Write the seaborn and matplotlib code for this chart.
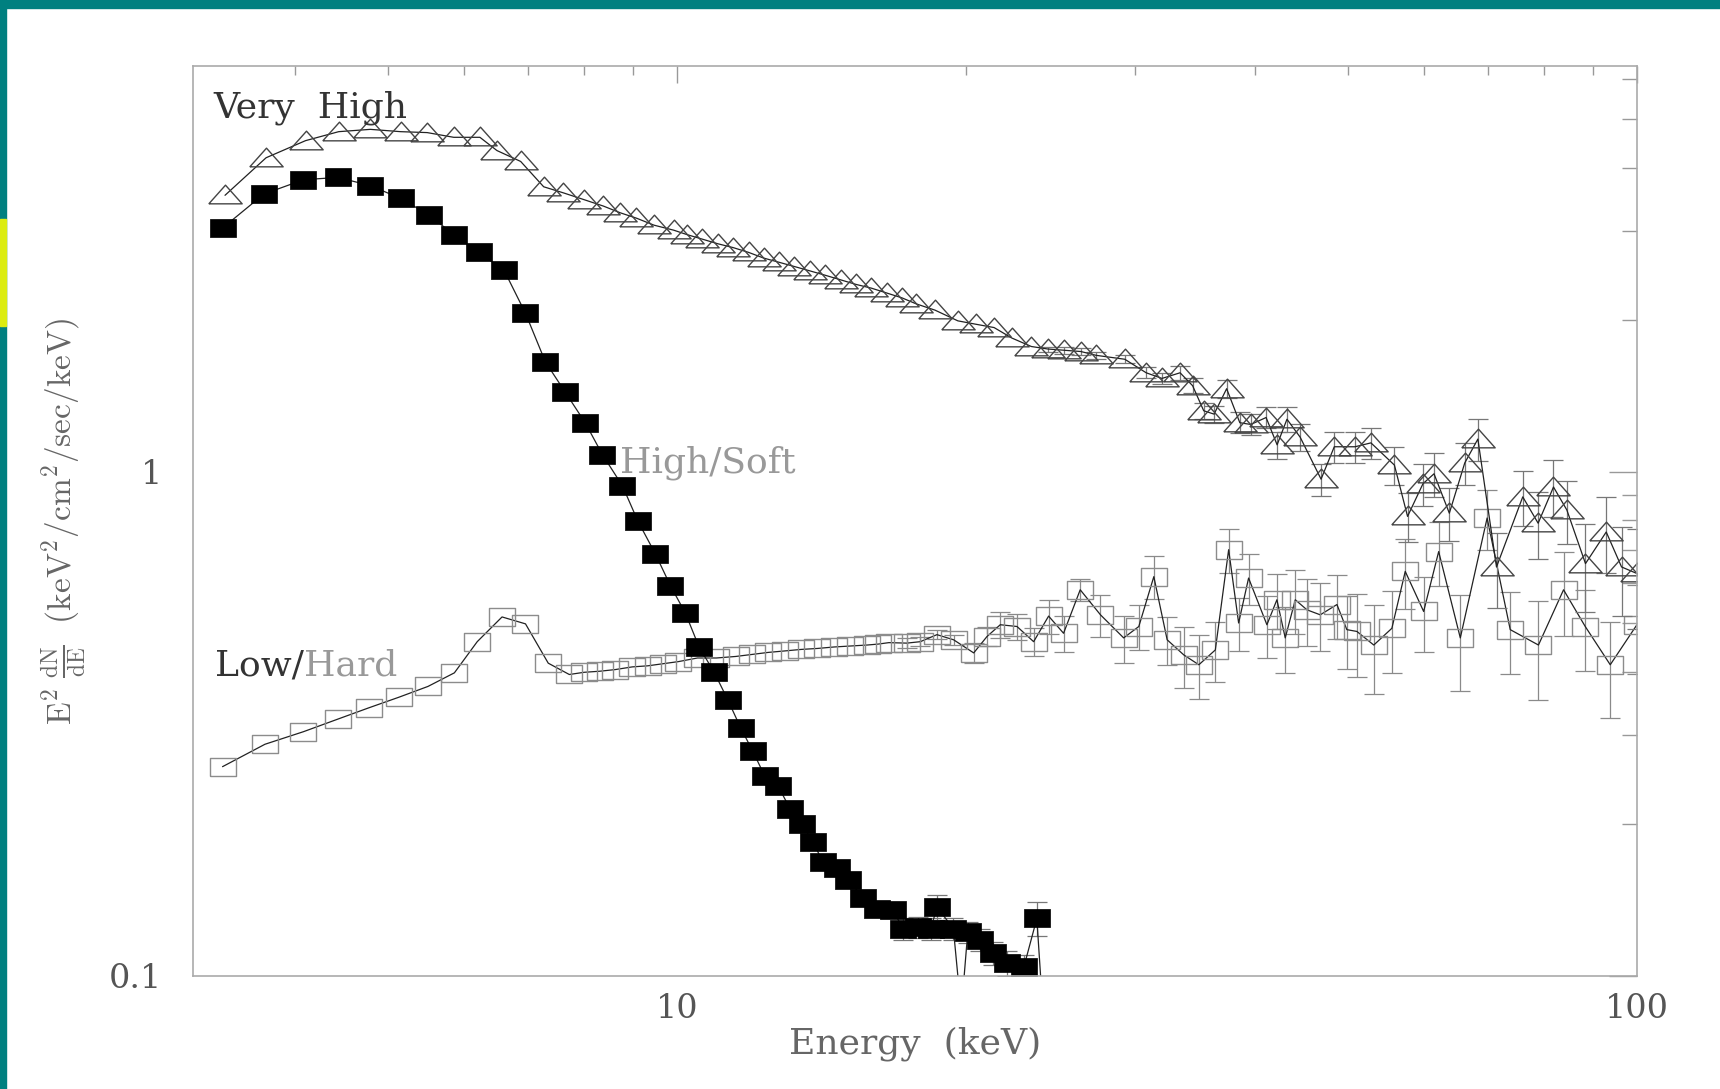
import numpy as np
import seaborn as sns
import matplotlib.pyplot as plt
from matplotlib.patches import Rectangle
from matplotlib.ticker import LogLocator, NullFormatter

# Very High state (open triangles)
vh_energy = [3.38, 3.73, 4.10, 4.44, 4.79, 5.15, 5.49, 5.85, 6.23, 6.49,
             6.87, 7.26, 7.61, 8.00, 8.38, 8.72, 9.07, 9.46, 9.92, 10.24,
             10.62, 11.02, 11.44, 11.87, 12.31, 12.77, 13.25, 13.75, 14.27, 14.80,
             15.36, 15.94, 16.53, 17.15, 17.75, 18.56, 19.61, 20.46, 21.39, 22.32,
             23.39, 24.33, 25.31, 26.34, 27.33, 29.27, 30.81, 32.0, 33.42, 34.44,
             35.37, 36.26, 37.37, 38.57, 39.60, 41.08, 42.18, 43.19, 44.58, 46.87,
             48.38, 50.85, 52.83, 55.89, 57.68, 59.85, 61.46, 63.76, 66.16, 68.28,
             71.40, 76.04, 78.90, 81.86, 84.53, 88.39, 92.90, 96.38, 100.0]
vh_flux = [3.53, 4.19, 4.53, 4.72, 4.77, 4.72, 4.70, 4.60, 4.60, 4.33,
           4.12, 3.67, 3.57, 3.46, 3.36, 3.26, 3.18, 3.08, 3.01, 2.95,
           2.89, 2.83, 2.78, 2.72, 2.65, 2.60, 2.55, 2.50, 2.45, 2.40,
           2.35, 2.31, 2.26, 2.21, 2.15, 2.09, 1.99, 1.96, 1.93, 1.84,
           1.77, 1.75, 1.74, 1.73, 1.70, 1.67, 1.57, 1.53, 1.57, 1.48,
           1.32, 1.30, 1.46, 1.25, 1.24, 1.28, 1.13, 1.27, 1.17, 0.966,
           1.12, 1.12, 1.14, 1.03, 0.815, 0.946, 0.99, 0.827, 1.04, 1.16,
           0.647, 0.891, 0.790, 0.932, 0.839, 0.657, 0.759, 0.647, 0.628]
vh_err = [0] * 41 + [
    0.02, 0.03, 0.03, 0.03, 0.03, 0.04, 0.04, 0.05, 0.05,
    0.05, 0.05, 0.06, 0.06, 0.06, 0.06, 0.07, 0.07, 0.07, 0.07,
    0.08, 0.08, 0.08, 0.09, 0.09, 0.09, 0.10, 0.10, 0.10, 0.11,
    0.11, 0.11, 0.12, 0.12, 0.12, 0.13, 0.13, 0.13, 0.14]

# High/Soft state (filled squares)
hs_energy = [3.36, 3.71, 4.08, 4.43, 4.79, 5.15, 5.51, 5.85, 6.21, 6.60,
             6.95, 7.29, 7.64, 8.02, 8.36, 8.77, 9.10, 9.49, 9.84, 10.20,
             10.54, 10.93, 11.29, 11.65, 11.99, 12.34, 12.74, 13.12, 13.49, 13.86,
             14.19, 14.68, 15.06, 15.63, 16.14, 16.79, 17.19, 17.81, 18.37, 18.66,
             19.40, 19.77, 20.08, 20.66, 21.33, 22.07, 22.97, 23.70, 24.10]
hs_flux = [3.04, 3.55, 3.79, 3.83, 3.69, 3.48, 3.23, 2.95, 2.72, 2.51,
           2.06, 1.65, 1.44, 1.25, 1.08, 0.937, 0.798, 0.687, 0.594, 0.524,
           0.449, 0.400, 0.353, 0.310, 0.279, 0.249, 0.238, 0.214, 0.200, 0.184,
           0.168, 0.164, 0.155, 0.143, 0.136, 0.135, 0.124, 0.125, 0.124, 0.137,
           0.124, 0.085, 0.122, 0.118, 0.111, 0.106, 0.104, 0.130, 0.080]
hs_err = [0] * 36 + [0.006, 0.006, 0.006, 0.008, 0.006, 0, 0.006,
                     0.006, 0.006, 0.006, 0.006, 0.010, 0]

# Low/Hard state (open squares)
lh_energy = [3.36, 3.72, 4.08, 4.43, 4.77, 5.13, 5.50, 5.86, 6.19, 6.57,
             6.95, 7.34, 7.72, 8.00, 8.31, 8.62, 8.98, 9.32, 9.67, 10.03,
             10.50, 10.99, 11.51, 11.97, 12.44, 12.95, 13.46, 14.00, 14.57, 15.15,
             15.77, 16.20, 16.62, 17.35, 17.92, 18.65, 19.41, 20.37, 21.03, 21.71,
             22.60, 23.52, 24.38, 25.27, 26.30, 27.61, 29.19, 30.27, 31.38, 32.40,
             33.72, 34.96, 36.37, 37.55, 38.46, 39.39, 41.16, 42.16, 43.01, 44.06,
             45.31, 46.78, 48.69, 49.86, 51.08, 53.19, 55.55, 57.36, 59.95, 62.15,
             65.46, 69.81, 73.79, 78.96, 83.86, 88.34, 93.80, 100.0]
lh_flux = [0.260, 0.288, 0.305, 0.323, 0.340, 0.357, 0.375, 0.399, 0.460, 0.515,
           0.499, 0.417, 0.396, 0.400, 0.402, 0.405, 0.410, 0.412, 0.416, 0.420,
           0.427, 0.427, 0.430, 0.434, 0.438, 0.441, 0.444, 0.446, 0.449, 0.451,
           0.453, 0.455, 0.458, 0.457, 0.460, 0.475, 0.464, 0.437, 0.471, 0.497,
           0.493, 0.460, 0.517, 0.478, 0.583, 0.520, 0.468, 0.493, 0.619, 0.464,
           0.433, 0.414, 0.443, 0.700, 0.501, 0.615, 0.497, 0.557, 0.468, 0.557,
           0.532, 0.520, 0.545, 0.486, 0.482, 0.453, 0.489, 0.634, 0.528, 0.694,
           0.468, 0.809, 0.486, 0.453, 0.583, 0.493, 0.414, 0.497]
lh_err = [0] * 33 + [
    0.01, 0.01, 0.01, 0.01, 0.02, 0.02, 0.03, 0.03, 0.03,
    0.04, 0.04, 0.03, 0.05, 0.05, 0.05, 0.06, 0.05,
    0.06, 0.06, 0.06, 0.07, 0.06, 0.07, 0.07, 0.07, 0.07, 0.08,
    0.08, 0.08, 0.08, 0.08, 0.09, 0.09, 0.09, 0.10, 0.09, 0.10,
    0.10, 0.11, 0.09, 0.10, 0.11, 0.09, 0.09, 0.10]

x_ticks = [10, 100]
x_tick_labels = ["10", "100"]
y_ticks = [0.1, 1]
y_tick_labels = ["0.1", "1"]

sns.set_style("white")
plt.rcParams['font.family'] = ['DejaVu Serif', 'DejaVu Sans']
plt.rcParams['mathtext.fontset'] = 'cm'

fig = plt.figure(figsize=(17.2, 10.89), dpi=100)
ax = fig.add_axes([0.1122, 0.1038, 0.8395, 0.8356])
ax.set_xscale('log')
ax.set_yscale('log')

# wide, flat markers like the old pgplot output
tri = [(-1, -0.5), (1, -0.5), (0, 0.62), (-1, -0.5)]
rect = [(-1, -0.68), (1, -0.68), (1, 0.68), (-1, 0.68), (-1, -0.68)]


def err_bars(e, f, err, color):
    e, f, err = np.array(e), np.array(f), np.array(err)
    m = err > 0
    ax.errorbar(e[m], f[m], yerr=err[m], fmt='none', ecolor=color,
                elinewidth=0.9, capsize=7, capthick=0.9)


err_bars(lh_energy, lh_flux, lh_err, '#8a8a8a')
sns.lineplot(x=lh_energy, y=lh_flux, ax=ax, estimator=None, sort=False,
             color='#222222', linewidth=0.9, marker=rect, markersize=19,
             markerfacecolor='none', markeredgecolor='#8c8c8c', markeredgewidth=1.0)

err_bars(vh_energy, vh_flux, vh_err, '#777777')
sns.lineplot(x=vh_energy, y=vh_flux, ax=ax, estimator=None, sort=False,
             color='#222222', linewidth=0.9, marker=tri, markersize=24,
             markerfacecolor='none', markeredgecolor='#444444', markeredgewidth=1.0)

err_bars(hs_energy, hs_flux, hs_err, '#777777')
sns.lineplot(x=hs_energy, y=hs_flux, ax=ax, estimator=None, sort=False,
             color='#222222', linewidth=0.9, marker=rect, markersize=19,
             markerfacecolor='black', markeredgecolor='black', markeredgewidth=0.5)

ax.set_xlim(3.13, 100)
ax.set_ylim(0.1, 6.37)
ax.set_xticks(x_ticks, labels=x_tick_labels)
ax.set_yticks(y_ticks, labels=y_tick_labels)
ax.xaxis.set_minor_locator(LogLocator(base=10, subs=np.arange(2, 10) * 1.0, numticks=20))
ax.yaxis.set_minor_locator(LogLocator(base=10, subs=np.arange(2, 10) * 1.0, numticks=20))
ax.xaxis.set_minor_formatter(NullFormatter())
ax.yaxis.set_minor_formatter(NullFormatter())

ax.tick_params(which='both', direction='in', top=True, right=True,
               color='#999999', width=1.0, labelcolor='#555555', labelsize=24)
ax.tick_params(axis='x', which='major', length=12, pad=12)
ax.tick_params(axis='x', which='minor', length=6.5)
ax.tick_params(axis='y', which='major', length=20, pad=22)
ax.tick_params(axis='y', which='minor', length=11)
for s in ax.spines.values():
    s.set_color('#aaaaaa')
    s.set_linewidth(1.2)

ax.set_xlabel("Energy  (keV)", fontsize=26, color='#666666')
ax.xaxis.set_label_coords(0.5, -0.056)
ax.set_ylabel(r'$\mathrm{E^2\ \frac{dN}{dE}\ \ (keV^2/cm^2/sec/keV)}$',
              fontsize=24, color='#666666')
ax.yaxis.set_label_coords(-0.073, 0.5)

# state labels
ax.text(3.29, 5.27, "Very  High", fontsize=26, color='#333333', va='center')
ax.text(8.72, 1.04, "High/Soft", fontsize=26, color='#999999', va='center')
low = ax.text(3.30, 0.412, "Low/", fontsize=26, color='#333333', va='center')
ax.annotate("Hard", xy=(1, 0.5), xycoords=low, fontsize=26, color='#999999',
            va='center', ha='left')

# slide frame
fig.add_artist(Rectangle((0, 1 - 8 / 1089), 1, 8 / 1089, transform=fig.transFigure,
                         color='#008080', zorder=10))
fig.add_artist(Rectangle((0, 0), 6 / 1720, 1, transform=fig.transFigure,
                         color='#008080', zorder=10))
fig.add_artist(Rectangle((0, 1 - 326 / 1089), 6 / 1720, 107 / 1089, transform=fig.transFigure,
                         color='#dcec10', zorder=11))

fig.savefig("out.png", dpi=100)
